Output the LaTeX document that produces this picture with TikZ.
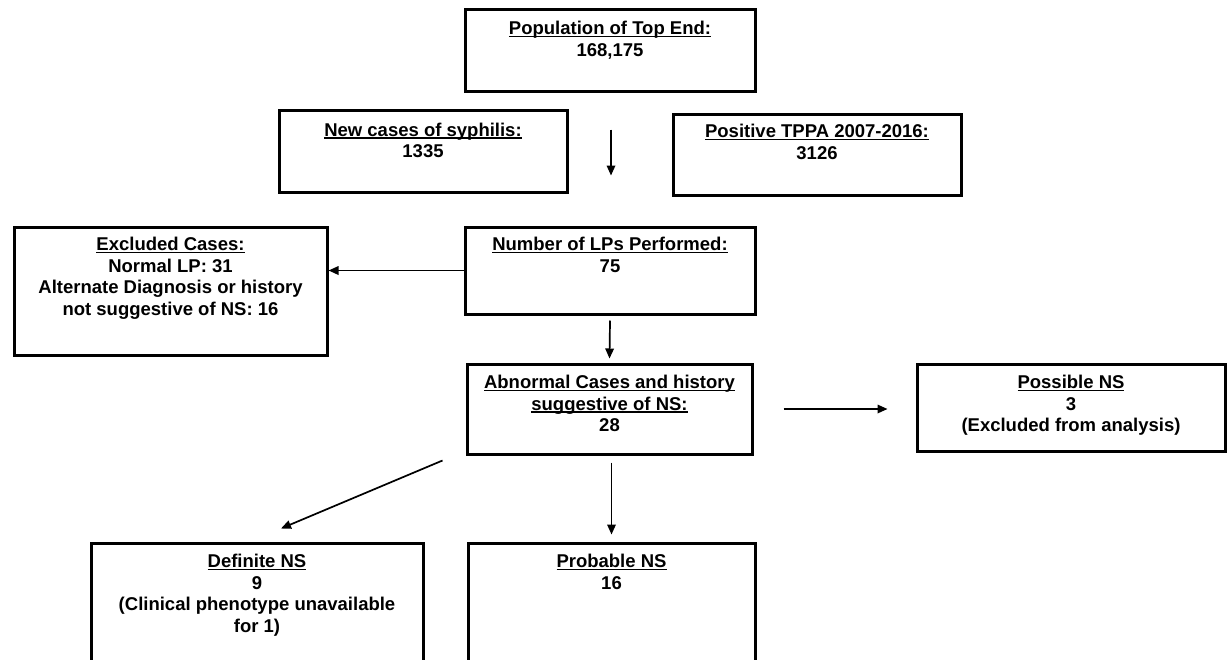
\documentclass[tikz,border=0pt]{standalone}
\usepackage{fontspec}
\setmainfont{Liberation Sans}
\usetikzlibrary{arrows.meta,calc}
\newsavebox\ulbox
\newcommand{\ulx}[1]{\sbox\ulbox{#1}\rlap{\rule[-2.4pt]{\wd\ulbox}{1.3pt}}\usebox\ulbox}
\tikzset{
  box/.style={draw=black, line width=3pt, fill=white, inner sep=0pt},
  txt/.style={anchor=north, inner sep=0pt, align=center,
    font=\fontsize{18.5}{21.5}\selectfont\bfseries},
  arr/.style={line width=1.7pt, -{Triangle[length=10pt,width=8.5pt]}}
}
\begin{document}
\begin{tikzpicture}[x=1pt,y=-1pt]
\clip (0,0) rectangle (1230,659);
\fill[white] (0,0) rectangle (1230,659);
% boxes
\node[box, minimum width=290pt, minimum height=82pt] (pop) at (610,50) {};
\node[box, minimum width=288pt, minimum height=82pt] (new) at (423,151) {};
\node[box, minimum width=288pt, minimum height=81pt] (tppa) at (817,154.5) {};
\node[box, minimum width=290pt, minimum height=87pt] (lp) at (610,270.5) {};
\node[box, minimum width=313pt, minimum height=128pt] (exc) at (170.5,291) {};
\node[box, minimum width=285pt, minimum height=90pt] (abn) at (609.5,409) {};
\node[box, minimum width=308pt, minimum height=87pt] (pos) at (1071,407.5) {};
\node[box, minimum width=332pt, minimum height=160pt] (def) at (257,623) {};
\node[box, minimum width=287pt, minimum height=160pt] (prob) at (611.5,623) {};
% texts
\node[txt] (pop-t) at ($(pop.north)+(0,13.5)$) {\ulx{Population of Top End:}\\168,175};
\node[txt] (new-t) at ($(new.north)+(0,14)$) {\ulx{New cases of syphilis:}\\1335};
\node[txt] (tppa-t) at ($(tppa.north)+(0,11.5)$) {\ulx{Positive TPPA 2007-2016:}\\3126};
\node[txt] (lp-t) at ($(lp.north)+(0,11.5)$) {\ulx{Number of LPs Performed:}\\75};
\node[txt] (exc-t) at ($(exc.north)+(0,11.5)$) {\ulx{Excluded Cases:}\\Normal LP: 31\\Alternate Diagnosis or history\\not suggestive of NS: 16};
\node[txt] (abn-t) at ($(abn.north)+(0,12.5)$) {\ulx{Abnormal Cases and history}\\\ulx{suggestive of NS:}\\28};
\node[txt] (pos-t) at ($(pos.north)+(0,12.5)$) {\ulx{Possible NS}\\3\\(Excluded from analysis)};
\node[txt] (def-t) at ($(def.north)+(0,12.5)$) {\ulx{Definite NS}\\9\\(Clinical phenotype unavailable\\for 1)};
\node[txt] (prob-t) at ($(prob.north)+(0,12.5)$) {\ulx{Probable NS}\\16};
% arrows
\draw[arr] ($(pop.south)+(1,37)$) -- ($(lp.north)+(1,-50)$);
\draw[arr] (lp.west) -- (lp.west -| exc.east);
\draw[arr] ($(lp.south)+(0,5)$) -- ($(abn.north)+(0,-4)$);
\draw[arr] ($(abn.east)+(30,0)$) -- ($(abn.east -| pos.west)+(-28,0)$);
\draw[arr] ($(abn.south west)+(-23,5)$) -- ($(def.north)+(24,-13)$);
\draw[arr] ($(abn.south -| prob.north)+(0,7)$) -- ($(prob.north)+(0,-7)$);
\end{tikzpicture}
\end{document}
